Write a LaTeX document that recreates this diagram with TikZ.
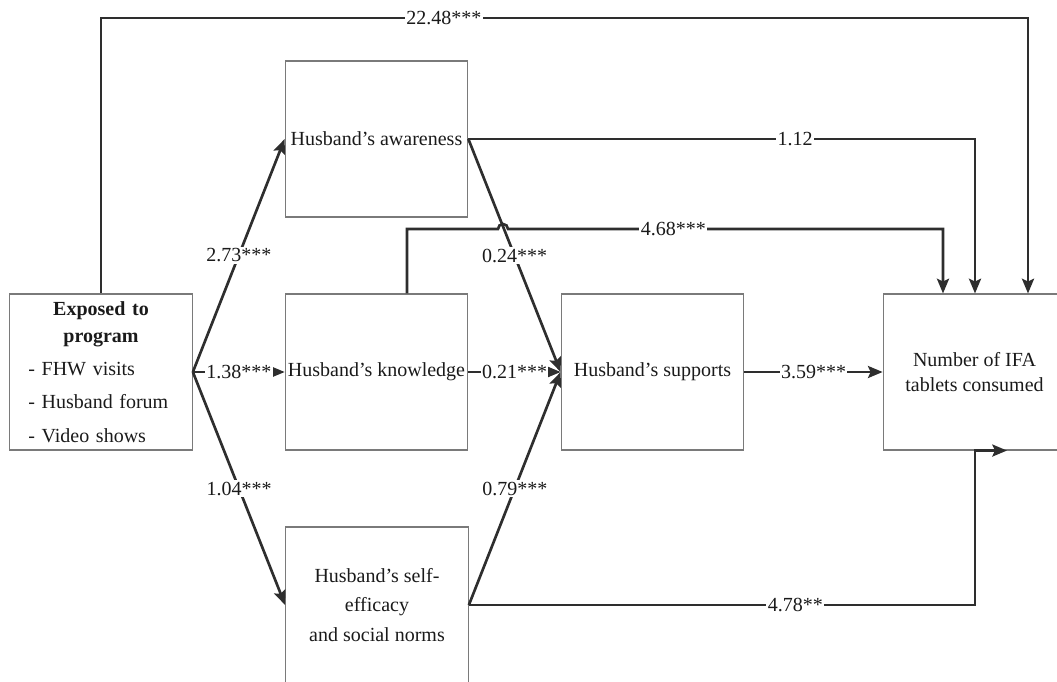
\documentclass[tikz,border=0pt]{standalone}
\usepackage{fontspec}
\setmainfont{Liberation Serif}
\usetikzlibrary{arrows.meta, calc}

\definecolor{lnk}{HTML}{2E2E2E}
\definecolor{brd}{HTML}{7A7A7A}
\definecolor{txt}{HTML}{1A1A1A}

\tikzset{
  box/.style={draw=brd, line width=0.8pt, minimum width=137pt, minimum height=117pt,
    inner sep=2pt, align=center, text=txt, font=\fontsize{15}{19}\selectfont},
  conn/.style={draw=lnk, line width=2pt,
    -{Stealth[length=11pt, width=9pt, inset=2pt]}},
  coef/.style={fill=white, inner sep=1pt, text=txt, font=\fontsize{15}{18}\selectfont}
}

\begin{document}
\begin{tikzpicture}[x=0.75pt, y=-0.75pt]
  \useasboundingbox (0,0) rectangle (1057,682);
  \clip (0,0) rectangle (1057,682);

  % caixas
  \node[box, text width=133pt, align=left, font=\fontsize{15}{25}\selectfont] (ex) at (101,372)
    {{\centering\bfseries\fontsize{15}{20}\selectfont Exposed to\\program\par}
     \hspace*{12pt}- FHW visits\\
     \hspace*{12pt}- Husband forum\\
     \hspace*{12pt}- Video shows};
  \node[box] (aw) at (376.5,139) {Husband’s awareness};
  \node[box] (kn) at (376.5,372) {Husband’s knowledge};
  \node[box, font=\fontsize{15}{22}\selectfont] (se) at (377,605)
    {Husband’s self-\\efficacy\\and social norms};
  \node[box] (sp) at (652.5,372) {Husband’s supports};
  \node[box] (oc) at (974.5,372) {Number of IFA\\tablets consumed};

  % pontos de chegada
  \coordinate (in1) at ($(oc.north)+(-31.5,0)$);
  \coordinate (in2) at ($(oc.north)+(0.5,0)$);
  \coordinate (in3) at ($(oc.north)+(53.5,0)$);
  \coordinate (top) at (0,18);
  \coordinate (kt) at ($(kn.north)+(30.5,0)$);
  \coordinate (hop) at (503,229);
  \coordinate (tip) at ($(oc.south)+(32.5,0)$);

  % efeitos indiretos
  \draw[conn] (ex.east) -- node[coef]{2.73***} (aw.west);
  \draw[conn] (ex.east) -- node[coef]{1.38***} (kn.west);
  \draw[conn] (ex.east) -- node[coef]{1.04***} (se.west);
  \draw[conn] (aw.east) -- node[coef]{0.24***} (sp.west);
  \draw[conn] (kn.east) -- node[coef]{0.21***} (sp.west);
  \draw[conn] (se.east) -- node[coef]{0.79***} (sp.west);
  \draw[conn] (sp.east) -- node[coef]{3.59***} (oc.west);

  % efeitos diretos
  \draw[conn] (ex.north) -- (ex.north |- top)
    -- node[coef, pos=0.37]{22.48***} (in3 |- top) -- (in3);
  \draw[conn] (aw.east) -- node[coef, pos=0.645]{1.12} (aw.east -| in2) -- (in2);
  \draw[conn] (kt) -- (kt |- hop) -- ($(hop)+(-5,0)$)
    arc[start angle=180, end angle=360, radius=5]
    -- node[coef, pos=0.38]{4.68***} (hop -| in1) -- (in1);
  \draw[conn] (se.east) -- node[coef, pos=0.645]{4.78**} (se.east -| in2)
    -- (in2 |- oc.south) -- (tip);
\end{tikzpicture}
\end{document}
